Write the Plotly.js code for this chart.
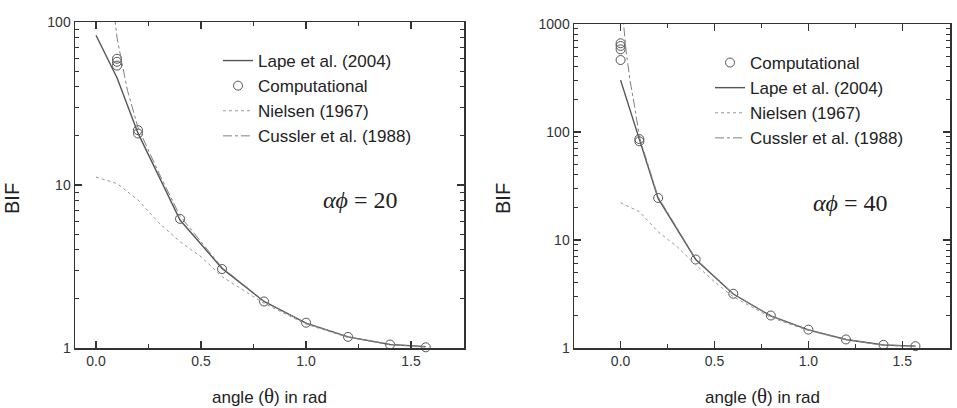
<!DOCTYPE html>
<html>
<head>
<meta charset="utf-8">
<script src="https://cdn.plot.ly/plotly-3.0.1.min.js"></script>
<style>html,body{margin:0;padding:0;background:#fff;}#chart{width:957px;height:408px;}</style>
</head>
<body>
<div id="chart"></div>
<script>
// ---------- Left panel (alpha*phi = 20) ----------
const lapeX20 = [0, 0.1, 0.2, 0.4, 0.6, 0.8, 1.0, 1.2, 1.4, 1.57];
const lapeY20 = [83, 45.5, 20.8, 6.1, 3.08, 1.93, 1.42, 1.17, 1.05, 1.02];
const compX20 = [0.1, 0.1, 0.1, 0.2, 0.2, 0.4, 0.6, 0.8, 1.0, 1.2, 1.4, 1.57];
const compY20 = [59.5, 57, 54, 21.7, 20.7, 6.2, 3.05, 1.93, 1.43, 1.17, 1.05, 1.01];
const nielX20 = [0, 0.1, 0.2, 0.3, 0.4, 0.5, 0.6, 0.7, 0.8, 1.0, 1.2, 1.4, 1.57];
const nielY20 = [11.2, 10.2, 8.1, 5.85, 4.49, 3.63, 2.74, 2.27, 1.88, 1.4, 1.16, 1.05, 1.01];
const cussX20 = [0.05, 0.08, 0.1, 0.15, 0.2, 0.3, 0.4, 0.6, 0.8, 1.0, 1.2, 1.4, 1.57];
const cussY20 = [300, 135, 80, 38, 22.5, 11.8, 6.45, 3.12, 1.94, 1.42, 1.17, 1.05, 1.02];

// ---------- Right panel (alpha*phi = 40) ----------
const compX40 = [0, 0, 0, 0, 0.1, 0.1, 0.2, 0.4, 0.6, 0.8, 1.0, 1.2, 1.4, 1.57];
const compY40 = [663, 626, 583, 464, 86, 82, 24.5, 6.6, 3.18, 2.0, 1.48, 1.2, 1.07, 1.04];
const lapeX40 = [0, 0.1, 0.2, 0.4, 0.6, 0.8, 1.0, 1.2, 1.4, 1.57];
const lapeY40 = [302, 84, 24.3, 6.6, 3.16, 1.98, 1.47, 1.2, 1.066, 1.04];
const nielX40 = [0, 0.1, 0.2, 0.3, 0.4, 0.5, 0.6, 0.8, 1.0, 1.2, 1.4, 1.57];
const nielY40 = [22.1, 18.3, 11.9, 8.7, 5.9, 4.1, 2.98, 1.92, 1.45, 1.19, 1.06, 1.03];
const cussX40 = [0.01, 0.016, 0.03, 0.05, 0.078, 0.1, 0.2, 0.4, 0.6, 0.8, 1.0, 1.2, 1.4, 1.57];
const cussY40 = [2000, 1000, 550, 302, 160, 90, 25, 6.7, 3.18, 1.98, 1.47, 1.2, 1.066, 1.04];

const labelLape = "Lape et al. (2004)";
const labelComp = "Computational";
const labelNiel = "Nielsen (1967)";
const labelCuss = "Cussler et al. (1988)";
const xTickVals = [0, 0.5, 1.0, 1.5];
const yTickVals20 = [1, 10, 100];
const yTickVals40 = [1, 10, 100, 1000];

const lapeStyle = {color: '#555', width: 1.4, dash: 'solid'};
const nielStyle = {color: '#999', width: 1, dash: 'dot'};
const cussStyle = {color: '#808080', width: 1, dash: 'dashdot'};
const compMarker = {symbol: 'circle-open', size: 9, color: '#555', line: {width: 1, color: '#555'}};

const traces = [
  {x: lapeX20, y: lapeY20, name: labelLape, mode: 'lines', line: lapeStyle, xaxis: 'x', yaxis: 'y', legend: 'legend'},
  {x: compX20, y: compY20, name: labelComp, mode: 'markers', marker: compMarker, xaxis: 'x', yaxis: 'y', legend: 'legend', cliponaxis: false},
  {x: nielX20, y: nielY20, name: labelNiel, mode: 'lines', line: nielStyle, xaxis: 'x', yaxis: 'y', legend: 'legend'},
  {x: cussX20, y: cussY20, name: labelCuss, mode: 'lines', line: cussStyle, xaxis: 'x', yaxis: 'y', legend: 'legend'},

  {x: compX40, y: compY40, name: labelComp, mode: 'markers', marker: compMarker, xaxis: 'x2', yaxis: 'y2', legend: 'legend2', cliponaxis: false},
  {x: lapeX40, y: lapeY40, name: labelLape, mode: 'lines', line: lapeStyle, xaxis: 'x2', yaxis: 'y2', legend: 'legend2'},
  {x: nielX40, y: nielY40, name: labelNiel, mode: 'lines', line: nielStyle, xaxis: 'x2', yaxis: 'y2', legend: 'legend2'},
  {x: cussX40, y: cussY40, name: labelCuss, mode: 'lines', line: cussStyle, xaxis: 'x2', yaxis: 'y2', legend: 'legend2'}
];

const tickFont = {family: 'Liberation Sans, Arial, sans-serif', size: 14, color: '#333'};
const axisCommon = {
  showline: true, linecolor: '#333', linewidth: 1.5, mirror: 'ticks',
  ticks: 'inside', ticklen: 7, tickwidth: 1.2, tickcolor: '#333',
  showgrid: false, zeroline: false, tickfont: tickFont
};
const titleFont = {family: 'Liberation Sans, Arial, sans-serif', size: 17, color: '#222'};

function xaxis(domain, range, anchor) {
  return Object.assign({}, axisCommon, {
    domain: domain, range: range, anchor: anchor,
    tickvals: xTickVals, tickformat: '.1f',
    minor: {ticks: 'inside', ticklen: 4, tickwidth: 1, tickcolor: '#333', dtick: 0.25, tick0: 0}
  });
}
function yaxis(domain, range, anchor, vals) {
  return Object.assign({}, axisCommon, {
    type: 'log', domain: domain, range: range, anchor: anchor,
    tickvals: vals, ticktext: vals.map(String),
    minor: {ticks: 'inside', ticklen: 4, tickwidth: 1, tickcolor: '#333', dtick: 'D1'}
  });
}

const legendFont = {family: 'Liberation Sans, Arial, sans-serif', size: 17, color: '#222'};
const xTitleText = 'angle (<span style="font-family:Liberation Serif,serif;font-size:21px">θ</span>) in rad';

function ann(x, y, text, font, extra) {
  return Object.assign({xref: 'paper', yref: 'paper', x: x / 957, y: 1 - y / 408,
    xanchor: 'center', yanchor: 'middle', showarrow: false, text: text, font: font}, extra || {});
}

const layout = {
  width: 957, height: 408,
  margin: {l: 0, r: 0, t: 0, b: 0},
  paper_bgcolor: '#fff', plot_bgcolor: '#fff',
  showlegend: true,
  xaxis: xaxis([75/957, 464/957], [-0.1, 1.752], 'y'),
  yaxis: yaxis([1 - 348/408, 1 - 22/408], [0, 2], 'x', yTickVals20),
  xaxis2: xaxis([574/957, 950/957], [-0.248, 1.754], 'y2'),
  yaxis2: yaxis([1 - 348/408, 1 - 24/408], [0, 3], 'x2', yTickVals40),
  legend: {x: 218/957, y: 1 - 43/408, xanchor: 'left', yanchor: 'top', bgcolor: 'rgba(0,0,0,0)',
    font: legendFont, tracegroupgap: 0, itemwidth: 30},
  legend2: {x: 710/957, y: 1 - 45/408, xanchor: 'left', yanchor: 'top', bgcolor: 'rgba(0,0,0,0)',
    font: legendFont, tracegroupgap: 0, itemwidth: 30},
  annotations: [
    ann(360, 200, '<i>αϕ</i> = 20', {family: 'Liberation Serif, DejaVu Serif, serif', size: 24, color: '#222'}),
    ann(850, 203, '<i>αϕ</i> = 40', {family: 'Liberation Serif, DejaVu Serif, serif', size: 24, color: '#222'}),
    ann(269, 396, xTitleText, titleFont),
    ann(762, 396, xTitleText, titleFont),
    ann(12, 199, 'BIF', {family: 'Liberation Sans, Arial, sans-serif', size: 20, color: '#222'}, {textangle: -90}),
    ann(503, 199, 'BIF', {family: 'Liberation Sans, Arial, sans-serif', size: 20, color: '#222'}, {textangle: -90})
  ]
};

Plotly.newPlot('chart', traces, layout, {displayModeBar: false, staticPlot: true});
</script>
</body>
</html>
